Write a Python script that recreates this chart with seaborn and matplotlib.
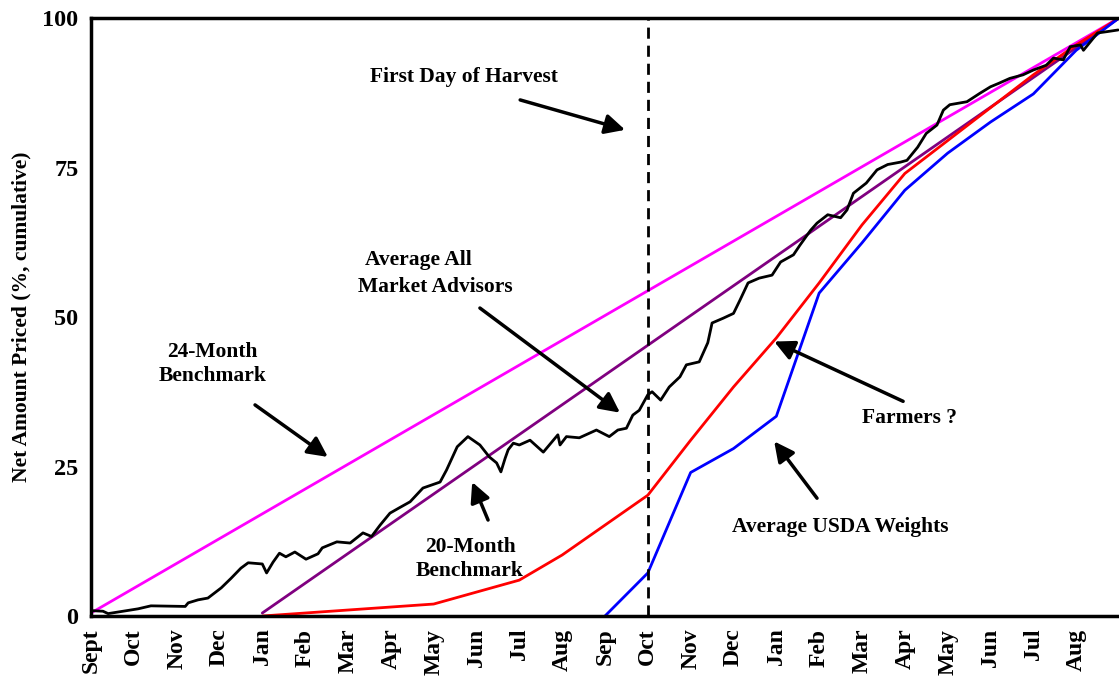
import numpy as np
import pandas as pd
import matplotlib
matplotlib.use("Agg")
import matplotlib.pyplot as plt
import seaborn as sns

months = ["Sept", "Oct", "Nov", "Dec", "Jan", "Feb", "Mar", "Apr", "May", "Jun", "Jul", "Aug",
          "Sep", "Oct", "Nov", "Dec", "Jan", "Feb", "Mar", "Apr", "May", "Jun", "Jul", "Aug"]

# benchmarks (month index, % priced)
bench24_x = [0, 24]
bench24_y = [0.5, 100]
bench20_x = [4, 24]
bench20_y = [0.5, 100]

# farmers
farm_x = [4, 8, 10, 11, 12, 13, 14, 15, 16, 17, 18, 19, 20, 21, 22, 23, 24]
farm_y = [0, 2, 6, 10.2, 15.2, 20.2, 29.4, 38.3, 46.5, 55.7, 65.4, 74, 79.5, 85, 90.5, 95.5, 100]

# average USDA weights
usda_x = [12, 13, 14, 15, 16, 17, 18, 19, 20, 21, 22, 23, 24]
usda_y = [0, 7.2, 24, 28, 33.4, 54, 62.4, 71.2, 77.4, 82.6, 87.3, 94.6, 100]

# average all market advisors
adv_x = [0, 0.28, 0.4, 1.1, 1.4, 2.2, 2.27, 2.5, 2.73, 3.04, 3.27, 3.5, 3.67, 4.0, 4.1,
         4.25, 4.4, 4.55, 4.76, 5.02, 5.3, 5.4, 5.74, 6.05, 6.35, 6.55, 6.75, 6.98, 7.2,
         7.45, 7.75, 8.15, 8.3, 8.55, 8.8, 9.08, 9.3, 9.47, 9.57, 9.67, 9.74, 9.86, 10.0,
         10.25, 10.56, 10.9, 10.95, 11.1, 11.4, 11.8, 12.1, 12.3, 12.5, 12.65, 12.8, 13.0,
         13.1, 13.3, 13.5, 13.75, 13.9, 14.2, 14.4, 14.5, 14.76, 15.0, 15.15, 15.34, 15.6,
         15.9, 16.1, 16.4, 16.55, 16.8, 16.95, 17.2, 17.5, 17.65, 17.8, 18.1, 18.35, 18.6,
         18.9, 19.05, 19.3, 19.5, 19.75, 19.9, 20.05, 20.45, 20.75, 21.0, 21.2, 21.45,
         21.76, 22.0, 22.3, 22.47, 22.7, 22.86, 23.1, 23.17, 23.5, 23.7, 23.98]
adv_y = [0.9, 0.8, 0.4, 1.2, 1.7, 1.6, 2.2, 2.7, 3.0, 4.7, 6.3, 8.0, 8.9, 8.7, 7.2,
         9.0, 10.5, 9.9, 10.7, 9.5, 10.4, 11.4, 12.4, 12.2, 13.9, 13.3, 15.2, 17.2, 18.1,
         19.1, 21.4, 22.4, 24.4, 28.3, 30.0, 28.6, 26.6, 25.6, 24.1, 26.4, 27.8, 28.9, 28.6,
         29.4, 27.4, 30.3, 28.6, 30.0, 29.8, 31.1, 30.0, 31.1, 31.4, 33.6, 34.4, 37.0,
         37.5, 36.1, 38.3, 40.0, 42.0, 42.5, 45.7, 49.0, 49.8, 50.6, 52.8, 55.7, 56.5,
         57.0, 59.2, 60.4, 62.0, 64.5, 65.7, 67.1, 66.6, 67.9, 70.7, 72.4, 74.6, 75.5,
         75.9, 76.2, 78.4, 80.7, 82.1, 84.6, 85.5, 86.0, 87.4, 88.5, 89.1, 89.9,
         90.5, 91.3, 92.1, 93.3, 93.0, 95.2, 95.5, 94.6, 97.5, 97.7, 98.0]

harvest_day = 13

sns.set_style("white")
plt.rcParams['font.family'] = ['Liberation Serif', 'DejaVu Serif']
plt.rcParams['font.weight'] = 'bold'
plt.rcParams['text.color'] = 'black'
plt.rcParams['axes.labelcolor'] = 'black'
plt.rcParams['xtick.color'] = 'black'
plt.rcParams['ytick.color'] = 'black'

fig = plt.figure(figsize=(11.19, 6.77), dpi=100)
ax = fig.add_axes([0.0813, 0.0901, 0.9187, 0.8833])

sns.lineplot(x=bench24_x, y=bench24_y, color="#FF00FF", lw=2, ax=ax)
sns.lineplot(x=bench20_x, y=bench20_y, color="#800080", lw=2, ax=ax)
sns.lineplot(x=farm_x, y=farm_y, color="#FF0000", lw=2, ax=ax, estimator=None, sort=False)
sns.lineplot(x=usda_x, y=usda_y, color="#0000FF", lw=2, ax=ax, estimator=None, sort=False)
sns.lineplot(x=adv_x, y=adv_y, color="black", lw=2, ax=ax, estimator=None, sort=False)
ax.axvline(harvest_day, color="black", lw=2, ls=(0, (4, 2.5)))

ax.set_xlim(0, 24)
ax.set_ylim(0, 100)
ax.set_xticks(range(24))
ax.set_xticklabels(months, rotation=90, fontsize=17, fontweight='bold')
ax.set_yticks([0, 25, 50, 75, 100])
ax.set_yticklabels(["0", "25", "50", "75", "100"], fontsize=17.5, fontweight='bold')
ax.tick_params(axis='both', direction='out', length=6, width=2.5, color='black', pad=3)
ax.set_ylabel("Net Amount Priced (%, cumulative)", fontsize=15.5, fontweight='bold', labelpad=8)
ax.set_xlabel("")

for s in ['left', 'top', 'bottom']:
    ax.spines[s].set_linewidth(2.5)
    ax.spines[s].set_color('black')
ax.spines['right'].set_visible(False)

arrow = dict(arrowstyle='-|>', color='black', lw=2.5, mutation_scale=30, shrinkA=0, shrinkB=0)
tkw = dict(fontsize=15.5, fontweight='bold', ha='center', va='center', color='black')

ax.text(8.71, 90.1, "First Day of Harvest", **tkw)
ax.annotate("", xy=(12.47, 81.3), xytext=(10.02, 86.3), arrowprops=arrow)

ax.text(7.65, 59.6, "Average All", **tkw)
ax.text(8.05, 55.0, "Market Advisors", **tkw)
ax.annotate("", xy=(12.35, 34.0), xytext=(9.08, 51.5), arrowprops=arrow)

ax.text(2.83, 42.1, "24-Month\nBenchmark", linespacing=1.3, **tkw)
ax.annotate("", xy=(5.53, 26.6), xytext=(3.83, 35.3), arrowprops=arrow)

ax.text(8.85, 9.5, "20-Month\nBenchmark", linespacing=1.3, **tkw)
ax.annotate("", xy=(8.9, 22.4), xytext=(9.27, 16.05), arrowprops=arrow)

ax.text(19.12, 33.1, "Farmers ?", **tkw)
ax.annotate("", xy=(15.95, 45.9), xytext=(18.96, 35.9), arrowprops=arrow)

ax.text(17.49, 14.9, "Average USDA Weights", **tkw)
ax.annotate("", xy=(15.95, 29.2), xytext=(16.95, 19.7), arrowprops=arrow)

fig.savefig("out.png", dpi=100)
